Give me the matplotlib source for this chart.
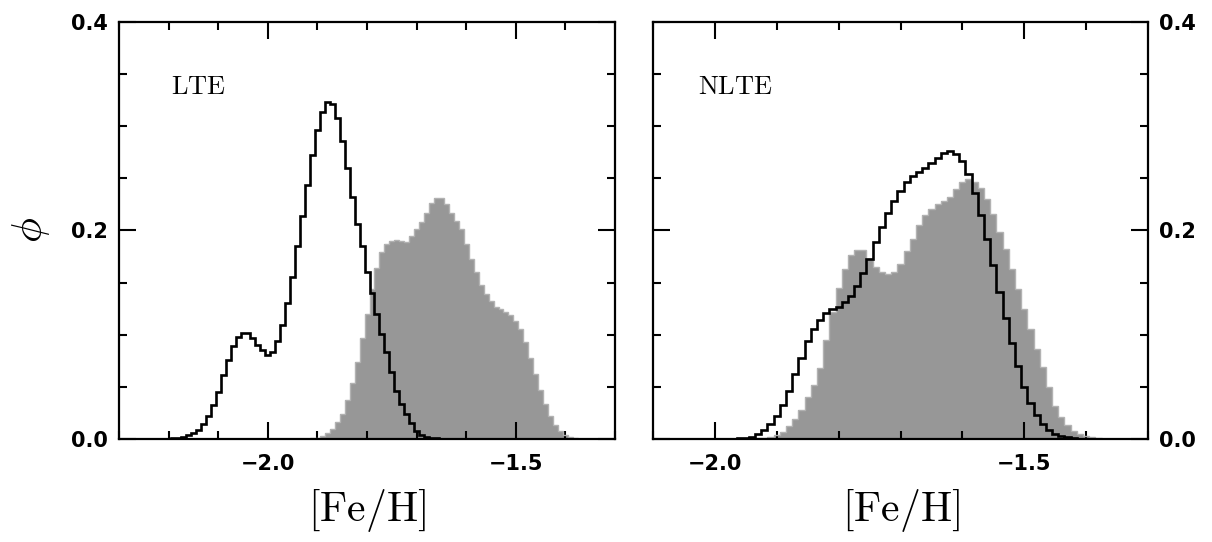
import numpy as np
import matplotlib
matplotlib.use("Agg")
import matplotlib.pyplot as plt
from matplotlib.ticker import MultipleLocator, FuncFormatter

plt.rcParams['mathtext.fontset'] = 'cm'

# ---------------- data (bin width 0.01 dex, first left edge given) ----------------
bin_width = 0.01

lte_black_start = -2.205
lte_black = [0.0003, 0.0007, 0.0012, 0.002, 0.004, 0.006, 0.009, 0.014, 0.022, 0.033,
             0.045, 0.061, 0.076, 0.089, 0.098, 0.102, 0.102, 0.097, 0.090, 0.085,
             0.081, 0.083, 0.094, 0.109, 0.130, 0.155, 0.185, 0.214, 0.243, 0.272,
             0.296, 0.313, 0.323, 0.321, 0.308, 0.286, 0.260, 0.232, 0.206, 0.185,
             0.160, 0.140, 0.120, 0.101, 0.083, 0.064, 0.046, 0.034, 0.024, 0.015,
             0.008, 0.004, 0.002, 0.001, 0.0005]

lte_gray_start = -1.915
lte_gray = [0.0005, 0.001, 0.003, 0.006, 0.010, 0.016, 0.024, 0.037, 0.054, 0.074,
            0.097, 0.120, 0.144, 0.164, 0.179, 0.187, 0.190, 0.191, 0.190, 0.189,
            0.195, 0.201, 0.208, 0.217, 0.226, 0.231, 0.231, 0.225, 0.217, 0.209,
            0.201, 0.187, 0.173, 0.160, 0.148, 0.139, 0.132, 0.127, 0.125, 0.122,
            0.119, 0.113, 0.105, 0.093, 0.078, 0.062, 0.047, 0.034, 0.022, 0.013,
            0.008, 0.004, 0.0016, 0.0005]

nlte_black_start = -1.965
nlte_black = [0.0005, 0.001, 0.002, 0.005, 0.009, 0.014, 0.022, 0.033, 0.046, 0.062,
              0.078, 0.094, 0.105, 0.114, 0.121, 0.125, 0.127, 0.131, 0.137, 0.147,
              0.159, 0.173, 0.189, 0.203, 0.217, 0.228, 0.238, 0.246, 0.252, 0.256,
              0.260, 0.265, 0.269, 0.274, 0.276, 0.273, 0.266, 0.254, 0.236, 0.215,
              0.192, 0.167, 0.141, 0.116, 0.092, 0.070, 0.050, 0.035, 0.023, 0.014,
              0.009, 0.005, 0.003, 0.0015, 0.0007]

nlte_gray_start = -1.935
nlte_gray = [0.0005, 0.001, 0.002, 0.004, 0.007, 0.012, 0.019, 0.028, 0.040, 0.052,
             0.068, 0.095, 0.122, 0.145, 0.163, 0.176, 0.181, 0.181, 0.173, 0.165,
             0.160, 0.158, 0.160, 0.168, 0.180, 0.192, 0.205, 0.215, 0.220, 0.225,
             0.228, 0.232, 0.240, 0.246, 0.249, 0.246, 0.241, 0.230, 0.216, 0.198,
             0.182, 0.163, 0.144, 0.125, 0.105, 0.086, 0.069, 0.050, 0.032, 0.021,
             0.013, 0.008, 0.005, 0.003, 0.0015, 0.0007]

panel_names = ['LTE', 'NLTE']
xlims = [(-2.3, -1.3), (-2.1, -1.3)]


def edges_for(start, vals):
    return start + bin_width * np.arange(len(vals) + 1)


def tick_fmt(v, pos):
    # proper minus sign like the original
    return ('%.1f' % v).replace('-', '\u2212')


# ---------------- figure ----------------
fig = plt.figure(figsize=(12.12, 5.42), dpi=100)
ax1 = fig.add_axes([0.0982, 0.190, 0.4093, 0.770])
ax2 = fig.add_axes([0.5388, 0.190, 0.4084, 0.770])

gray_fill = '#979797'
gray_edge = '#b2b2b2'

panels = [(ax1, lte_gray_start, lte_gray, lte_black_start, lte_black),
          (ax2, nlte_gray_start, nlte_gray, nlte_black_start, nlte_black)]

for i, (ax, gs, gv, bs, bv) in enumerate(panels):
    ge = edges_for(gs, gv)
    ax.stairs(gv, ge, fill=True, color=gray_fill, lw=0, zorder=1)
    ax.stairs(gv, ge, color=gray_edge, lw=1.0, zorder=2)
    ax.stairs(bv, edges_for(bs, bv), color='black', lw=1.9, zorder=3)

    ax.set_xlim(*xlims[i])
    ax.set_ylim(0, 0.4)
    ax.xaxis.set_major_locator(MultipleLocator(0.5))
    ax.xaxis.set_minor_locator(MultipleLocator(0.1))
    ax.yaxis.set_major_locator(MultipleLocator(0.2))
    ax.yaxis.set_minor_locator(MultipleLocator(0.05))
    ax.xaxis.set_major_formatter(FuncFormatter(tick_fmt))
    ax.yaxis.set_major_formatter(FuncFormatter(tick_fmt))
    ax.tick_params(which='both', direction='in', top=True, right=True,
                   width=1.5, labelsize=15)
    ax.tick_params(which='major', length=12)
    ax.tick_params(which='minor', length=6)
    ax.tick_params(axis='x', pad=11)
    ax.tick_params(axis='y', pad=8)
    for sp in ax.spines.values():
        sp.set_linewidth(1.6)

    ax.set_xlabel(r'$\left[\mathrm{Fe/H}\right]$', fontsize=30, labelpad=9)
    ax.text(0.105 if i == 0 else 0.09, 0.826, r'$\mathrm{%s}$' % panel_names[i],
            transform=ax.transAxes, fontsize=19, ha='left', va='baseline')

ax1.set_ylabel(r'$\phi$', fontsize=30, labelpad=14)
ax2.tick_params(axis='y', labelleft=False, labelright=True)

for ax in (ax1, ax2):
    for lab in ax.get_xticklabels() + ax.get_yticklabels():
        lab.set_fontweight('bold')

fig.savefig('out.png', dpi=100)
